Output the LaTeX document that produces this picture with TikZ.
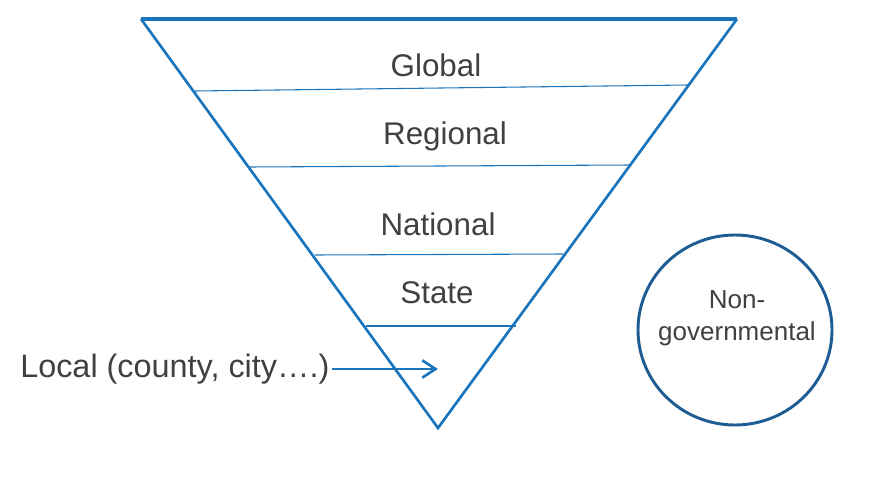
\documentclass[tikz,border=0pt]{standalone}
\usepackage{fontspec}
\setmainfont{Liberation Sans}
\usetikzlibrary{arrows.meta,shapes.geometric}
\definecolor{triblue}{HTML}{1B75BC}
\definecolor{circblue}{HTML}{1E5C94}
\definecolor{txt}{HTML}{404040}
\begin{document}
\begin{tikzpicture}[x=0.75pt,y=-0.75pt,
  lvl/.style={text=txt,font=\fontsize{23.5pt}{28pt}\selectfont,anchor=base,inner sep=0pt},
  band/.style={draw=triblue,line width=0.8pt},
  side/.style={draw=triblue,line width=2pt,line join=miter}]
\useasboundingbox (0,0) rectangle (870,481);
\coordinate (tl) at (141,19);
\coordinate (tr) at (737,19);
\coordinate (bt) at (438,428);
\draw[side] (tl) -- (bt) -- (tr);
\draw[draw=triblue,line width=2.5pt] (tl) -- (tr);
\coordinate (a1) at (195,91); \coordinate (b1) at (688,85);
\coordinate (a2) at (250,167); \coordinate (b2) at (630,165);
\coordinate (a3) at (315,255); \coordinate (b3) at (563,254);
\coordinate (a4) at (366,326); \coordinate (b4) at (516,326);
\draw[band] (a1) -- (b1);
\draw[band] (a2) -- (b2);
\draw[band] (a3) -- (b3);
\draw[band] (a4) -- (b4);
\node[lvl] (global) at (436,77) {Global};
\node[lvl] (regional) at (445,145) {Regional};
\node[lvl] (national) at (438,235) {National};
\node[lvl] (state) at (437,303) {State};
\node[lvl,font=\fontsize{24.3pt}{29pt}\selectfont,anchor=base west] (local) at (20,377) {Local (county, city….)};
\coordinate (tip) at (438,369);
\draw[draw=triblue,line width=2pt,-{Straight Barb[length=10pt,width=13pt,line width=2pt]}] (local.east |- tip) ++(2,0) -- (tip);
\node[draw=circblue,line width=2.2pt,ellipse,minimum width=145.5pt,minimum height=142.5pt,inner sep=0pt] (ngo) at (735,330) {};
\node[text=txt,font=\fontsize{19.5pt}{24pt}\selectfont,align=center,inner sep=0pt] (ngotext) at (737,318) {Non-\\governmental};
\end{tikzpicture}
\end{document}
